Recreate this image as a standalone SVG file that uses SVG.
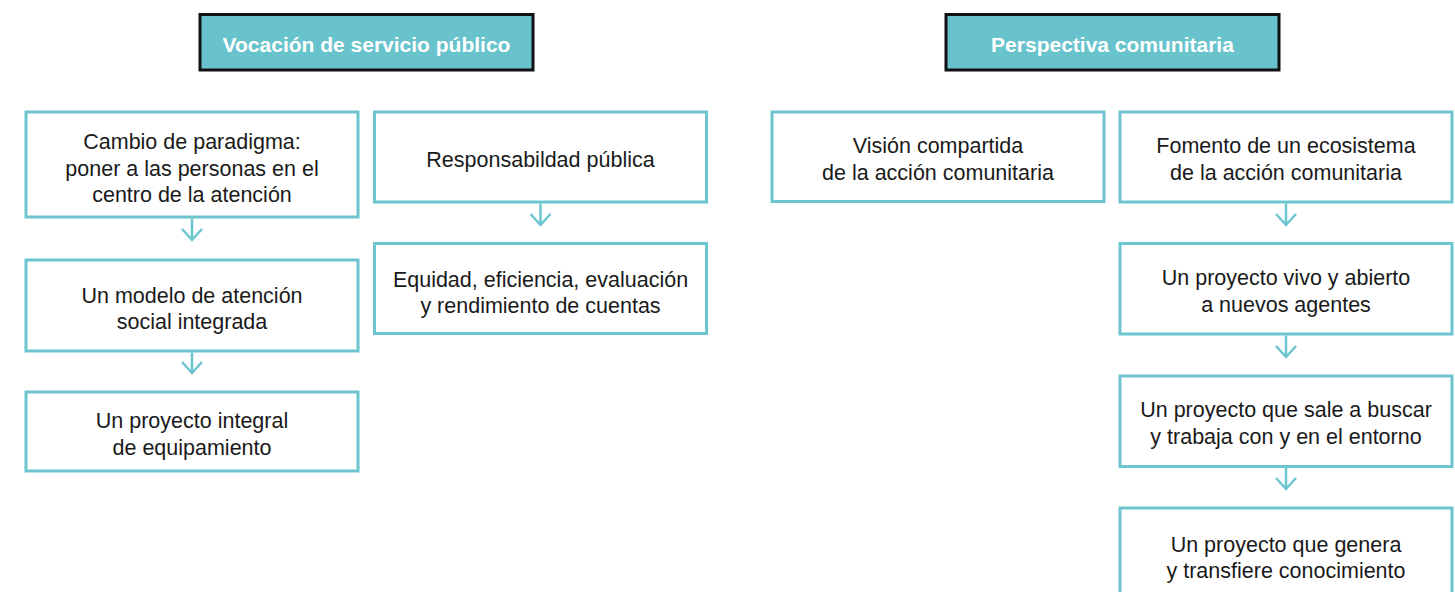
<svg xmlns="http://www.w3.org/2000/svg" width="1455" height="592" viewBox="0 0 1455 592">
<style>
.hdr rect{fill:#68c3cc;stroke:#111;stroke-width:3}
.hdr text{font-family:"Liberation Sans",Arial,sans-serif;font-weight:bold;font-size:21px;fill:#fff;text-anchor:middle}
.box rect{fill:#fff;stroke:#6cc5cf;stroke-width:3}
.box text{font-family:"Liberation Sans",Arial,sans-serif;font-size:21.5px;fill:#1a1a1a;text-anchor:middle}
.conn path{fill:none;stroke:#6cc5cf;stroke-width:2.5;stroke-linecap:butt;stroke-linejoin:miter}
</style>
<rect width="1455" height="592" fill="#fff"/>
<g id="h1" class="hdr"><rect x="200" y="14.5" width="333" height="55.5"/><text x="366.5" y="51.5">Vocación de servicio público</text></g>
<g id="h2" class="hdr"><rect x="946" y="14.5" width="333" height="55.5"/><text x="1112.5" y="51.5">Perspectiva comunitaria</text></g>

<g id="nA" class="box"><rect x="26" y="112" width="332" height="105"/><text x="192" y="149">Cambio de paradigma:</text><text x="192" y="175.5">poner a las personas en el</text><text x="192" y="202">centro de la atención</text></g>
<g id="nB" class="box"><rect x="26" y="260" width="332" height="91"/><text x="192" y="302.5">Un modelo de atención</text><text x="192" y="329">social integrada</text></g>
<g id="nC" class="box"><rect x="26" y="392" width="332" height="79"/><text x="192" y="428">Un proyecto integral</text><text x="192" y="454.5">de equipamiento</text></g>
<g id="nD" class="box"><rect x="374.5" y="112" width="332" height="90"/><text x="540.5" y="166.5">Responsabildad pública</text></g>
<g id="nE" class="box"><rect x="374.5" y="243.5" width="332" height="90"/><text x="540.5" y="286.5">Equidad, eficiencia, evaluación</text><text x="540.5" y="313">y rendimiento de cuentas</text></g>
<g id="nF" class="box"><rect x="772" y="112" width="332" height="89.5"/><text x="938" y="153">Visión compartida</text><text x="938" y="179.5">de la acción comunitaria</text></g>
<g id="nG" class="box"><rect x="1120" y="112" width="332" height="90"/><text x="1286" y="153">Fomento de un ecosistema</text><text x="1286" y="179.5">de la acción comunitaria</text></g>
<g id="nH" class="box"><rect x="1120" y="243.5" width="332" height="90.5"/><text x="1286" y="285">Un proyecto vivo y abierto</text><text x="1286" y="311.5">a nuevos agentes</text></g>
<g id="nI" class="box"><rect x="1120" y="376" width="332" height="90.5"/><text x="1286" y="417">Un proyecto que sale a buscar</text><text x="1286" y="443.5">y trabaja con y en el entorno</text></g>
<g id="nJ" class="box"><rect x="1120" y="508" width="332" height="92"/><text x="1286" y="551.5">Un proyecto que genera</text><text x="1286" y="578">y transfiere conocimiento</text></g>

<g id="connectors" class="conn">
<path d="M192 218.5V240M182 229L192 240L202 229"/>
<path d="M192 352.5V373M182 362L192 373L202 362"/>
<path d="M540.5 203.5V225M530.5 214L540.5 225L550.5 214"/>
<path d="M1286 203.5V225M1276 214L1286 225L1296 214"/>
<path d="M1286 335.5V357M1276 346L1286 357L1296 346"/>
<path d="M1286 468V489M1276 478L1286 489L1296 478"/>
</g>
</svg>
